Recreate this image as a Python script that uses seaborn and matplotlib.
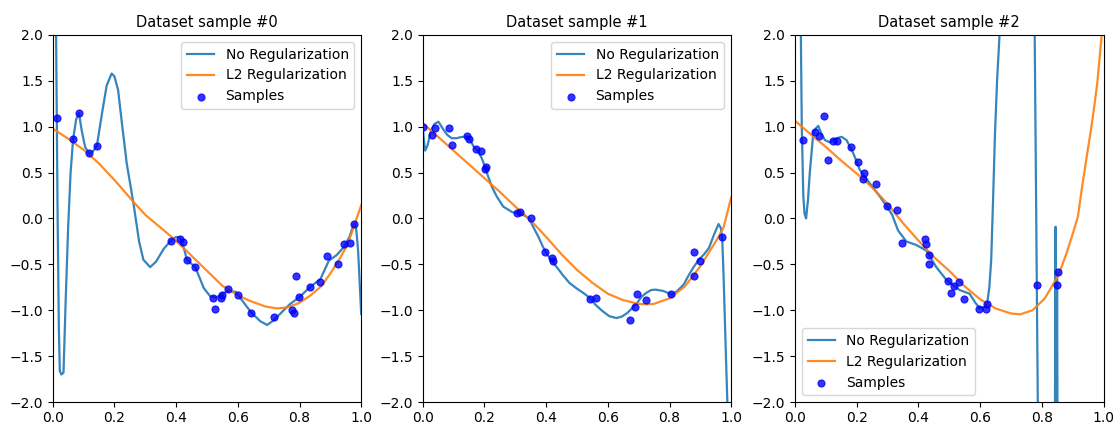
import matplotlib
matplotlib.use("Agg")
import matplotlib.pyplot as plt
import seaborn as sns

plt.rcParams["path.simplify"] = False

# ---------------- data ----------------
titles = ["Dataset sample #0", "Dataset sample #1", "Dataset sample #2"]
legend_locs = ["upper right", "upper right", "lower left"]

# samples
s0_x = [0.015, 0.067, 0.085, 0.118, 0.143, 0.383, 0.413, 0.422, 0.435, 0.461,
        0.518, 0.527, 0.544, 0.549, 0.567, 0.602, 0.643, 0.716, 0.777, 0.781,
        0.790, 0.799, 0.833, 0.868, 0.890, 0.926, 0.944, 0.965, 0.976]
s0_y = [1.09, 0.87, 1.15, 0.71, 0.785, -0.25, -0.22, -0.26, -0.455, -0.527,
        -0.865, -0.985, -0.862, -0.836, -0.764, -0.836, -1.03, -1.073, -1.0, -1.03,
        -0.63, -0.855, -0.745, -0.69, -0.41, -0.50, -0.273, -0.265, -0.055]

s1_x = [0.002, 0.030, 0.040, 0.086, 0.096, 0.145, 0.150, 0.172, 0.188, 0.205,
        0.202, 0.306, 0.315, 0.351, 0.397, 0.420, 0.423, 0.542, 0.563, 0.671,
        0.689, 0.694, 0.725, 0.804, 0.880, 0.898, 0.880, 0.971]
s1_y = [0.993, 0.909, 0.989, 0.989, 0.796, 0.902, 0.869, 0.753, 0.738, 0.564,
        0.535, 0.062, 0.073, 0.0, -0.367, -0.429, -0.465, -0.876, -0.865, -1.102,
        -0.967, -0.825, -0.891, -0.825, -0.367, -0.465, -0.629, -0.207]

s2_x = [0.025, 0.064, 0.078, 0.094, 0.108, 0.124, 0.135, 0.181, 0.204, 0.225,
        0.221, 0.264, 0.299, 0.330, 0.347, 0.422, 0.426, 0.435, 0.435, 0.496,
        0.506, 0.515, 0.531, 0.548, 0.597, 0.620, 0.622, 0.784, 0.849, 0.853]
s2_y = [0.855, 0.945, 0.902, 1.12, 0.636, 0.844, 0.844, 0.782, 0.618, 0.491,
        0.429, 0.371, 0.135, 0.091, -0.265, -0.218, -0.276, -0.393, -0.498, -0.676,
        -0.807, -0.738, -0.691, -0.88, -0.989, -0.989, -0.927, -0.724, -0.724, -0.582]

# No Regularization curves
nr0_x = [0.0, 0.011, 0.016, 0.020, 0.023, 0.028, 0.035, 0.042, 0.050, 0.058,
         0.066, 0.076, 0.085, 0.094, 0.105, 0.118, 0.130, 0.143, 0.160, 0.175,
         0.191, 0.200, 0.212, 0.225, 0.240, 0.262, 0.280, 0.294, 0.316, 0.335,
         0.360, 0.381, 0.400, 0.413, 0.425, 0.435, 0.462, 0.490, 0.511, 0.530,
         0.549, 0.570, 0.594, 0.620, 0.645, 0.673, 0.695, 0.716, 0.740, 0.770,
         0.799, 0.833, 0.868, 0.895, 0.920, 0.944, 0.962, 0.975, 0.979, 0.984,
         0.990, 1.0]
nr0_y = [20.0, 2.0, 0.0, -1.2, -1.66, -1.70, -1.68, -0.9, -0.1, 0.5,
         0.86, 1.08, 1.15, 0.96, 0.78, 0.71, 0.73, 0.79, 1.15, 1.45,
         1.58, 1.55, 1.40, 1.02, 0.60, 0.16, -0.25, -0.45, -0.53, -0.47,
         -0.33, -0.25, -0.20, -0.21, -0.32, -0.45, -0.53, -0.76, -0.85, -0.86,
         -0.82, -0.79, -0.80, -0.92, -1.03, -1.12, -1.16, -1.11, -1.03, -0.93,
         -0.86, -0.75, -0.66, -0.46, -0.40, -0.31, -0.20, -0.07, -0.05, -0.12,
         -0.35, -1.04]

nr1_x = [0.0, 0.004, 0.008, 0.016, 0.026, 0.038, 0.051, 0.067, 0.080, 0.094,
         0.110, 0.121, 0.142, 0.155, 0.164, 0.180, 0.191, 0.200, 0.212, 0.225,
         0.240, 0.261, 0.290, 0.326, 0.345, 0.358, 0.375, 0.390, 0.405, 0.423,
         0.455, 0.475, 0.498, 0.520, 0.540, 0.560, 0.583, 0.605, 0.628, 0.645,
         0.663, 0.693, 0.710, 0.725, 0.740, 0.755, 0.780, 0.808, 0.825, 0.846,
         0.862, 0.878, 0.895, 0.912, 0.928, 0.945, 0.959, 0.966, 0.971, 0.976,
         0.982, 0.988, 1.0]
nr1_y = [1.0, 0.85, 0.74, 0.80, 0.95, 1.03, 1.055, 0.97, 0.91, 0.875,
         0.875, 0.885, 0.895, 0.85, 0.79, 0.73, 0.66, 0.58, 0.46, 0.34,
         0.24, 0.13, 0.07, 0.04, 0.0, -0.09, -0.20, -0.31, -0.40, -0.48,
         -0.62, -0.70, -0.76, -0.81, -0.86, -0.94, -1.01, -1.065, -1.085, -1.07,
         -1.03, -0.93, -0.85, -0.81, -0.78, -0.775, -0.79, -0.83, -0.79, -0.72,
         -0.62, -0.53, -0.45, -0.39, -0.32, -0.17, -0.06, -0.10, -0.22, -0.7,
         -1.4, -2.05, -3.5]

nr2_x = [0.0, 0.012, 0.019, 0.022, 0.027, 0.031, 0.036, 0.042, 0.048, 0.059,
         0.067, 0.0755, 0.085, 0.097, 0.113, 0.130, 0.151, 0.167, 0.189, 0.200,
         0.210, 0.243, 0.275, 0.300, 0.315, 0.334, 0.361, 0.394, 0.426, 0.458,
         0.491, 0.534, 0.566, 0.585, 0.599, 0.615, 0.623, 0.630, 0.636, 0.642,
         0.648, 0.655, 0.663, 0.680, 0.720, 0.760, 0.770, 0.777, 0.7795, 0.782,
         0.7845, 0.787, 0.800, 0.830, 0.841, 0.8445, 0.847, 0.8495, 0.852, 0.870,
         1.0]
nr2_y = [30.0, 8.0, 2.0, 1.0, 0.24, 0.05, 0.0, 0.2, 0.5, 0.92,
         0.98, 1.01, 0.93, 0.855, 0.83, 0.87, 0.89, 0.855, 0.71, 0.62,
         0.53, 0.38, 0.24, 0.12, 0.04, -0.13, -0.25, -0.29, -0.35, -0.53,
         -0.67, -0.78, -0.82, -0.92, -0.98, -0.96, -0.92, -0.75, -0.45, 0.2,
         0.9, 1.5, 2.0, 6.0, 30.0, 30.0, 8.0, 2.0, 1.0, 0.0,
         -1.0, -2.0, -15.0, -15.0, -4.0, -0.09, -3.0, -0.6, -3.5, -30.0,
         -60.0]

# L2 Regularization curves
l20_x = [0.0, 0.05, 0.10, 0.15, 0.208, 0.262, 0.30, 0.35, 0.392, 0.430,
         0.457, 0.50, 0.549, 0.602, 0.641, 0.690, 0.727, 0.760, 0.799, 0.835,
         0.870, 0.900, 0.930, 0.955, 0.976, 1.0]
l20_y = [0.98, 0.87, 0.75, 0.60, 0.39, 0.18, 0.04, -0.10, -0.22, -0.34,
         -0.43, -0.57, -0.73, -0.84, -0.90, -0.96, -0.98, -0.97, -0.92, -0.84,
         -0.74, -0.60, -0.44, -0.29, -0.09, 0.145]

l21_x = [0.0, 0.05, 0.10, 0.15, 0.20, 0.25, 0.30, 0.35, 0.40, 0.45,
         0.50, 0.55, 0.60, 0.65, 0.70, 0.725, 0.75, 0.80, 0.85, 0.90,
         0.95, 0.975, 1.0]
l21_y = [1.04, 0.89, 0.74, 0.59, 0.44, 0.29, 0.13, -0.02, -0.20, -0.39,
         -0.56, -0.70, -0.82, -0.89, -0.93, -0.935, -0.93, -0.87, -0.74, -0.52,
         -0.25, -0.10, 0.23]

l22_x = [0.0, 0.05, 0.10, 0.15, 0.20, 0.25, 0.30, 0.35, 0.40, 0.45,
         0.50, 0.55, 0.60, 0.65, 0.70, 0.73, 0.77, 0.81, 0.85, 0.865,
         0.88, 0.90, 0.917, 0.93, 0.94, 0.95, 0.96, 0.97, 0.98, 0.99, 1.0]
l22_y = [1.065, 0.92, 0.78, 0.63, 0.49, 0.34, 0.16, -0.05, -0.24, -0.42,
         -0.57, -0.74, -0.88, -0.98, -1.035, -1.045, -1.0, -0.87, -0.64, -0.52,
         -0.38, -0.17, 0.02, 0.33, 0.55, 0.77, 0.98, 1.22, 1.48, 1.85, 2.2]

samples = [(s0_x, s0_y), (s1_x, s1_y), (s2_x, s2_y)]
noreg = [(nr0_x, nr0_y), (nr1_x, nr1_y), (nr2_x, nr2_y)]
l2reg = [(l20_x, l20_y), (l21_x, l21_y), (l22_x, l22_y)]

x_ticks = [0.0, 0.2, 0.4, 0.6, 0.8, 1.0]
y_ticks = [-2.0, -1.5, -1.0, -0.5, 0.0, 0.5, 1.0, 1.5, 2.0]

# ---------------- figure ----------------
fig = plt.figure(figsize=(11.16, 4.23), dpi=100)
lefts = [52.7 / 1116, 422.7 / 1116, 795.0 / 1116]
bottom = 21.0 / 423
width = 308.5 / 1116
height = 367.0 / 423

for i in range(3):
    ax = fig.add_axes([lefts[i], bottom, width, height])
    nx, ny = noreg[i]
    lx, ly = l2reg[i]
    sx, sy = samples[i]
    sns.lineplot(x=nx, y=ny, ax=ax, color="#1f77b4", linewidth=1.6,
                 label="No Regularization", estimator=None, errorbar=None, alpha=0.9)
    sns.lineplot(x=lx, y=ly, ax=ax, color="#ff7f0e", linewidth=1.6,
                 label="L2 Regularization", estimator=None, errorbar=None, alpha=0.9)
    sns.scatterplot(x=sx, y=sy, ax=ax, color="blue", s=26, edgecolor="blue",
                    linewidth=0.8, label="Samples", zorder=3, alpha=0.8)
    ax.set_xlim(0, 1)
    ax.set_ylim(-2, 2)
    ax.set_xticks(x_ticks)
    ax.set_yticks(y_ticks)
    ax.tick_params(labelsize=10)
    ax.tick_params(axis="x", pad=2.8)
    ax.set_title(titles[i], fontsize=10.5)
    ax.legend(loc=legend_locs[i], fontsize=10)

fig.savefig("out.png", dpi=100)
